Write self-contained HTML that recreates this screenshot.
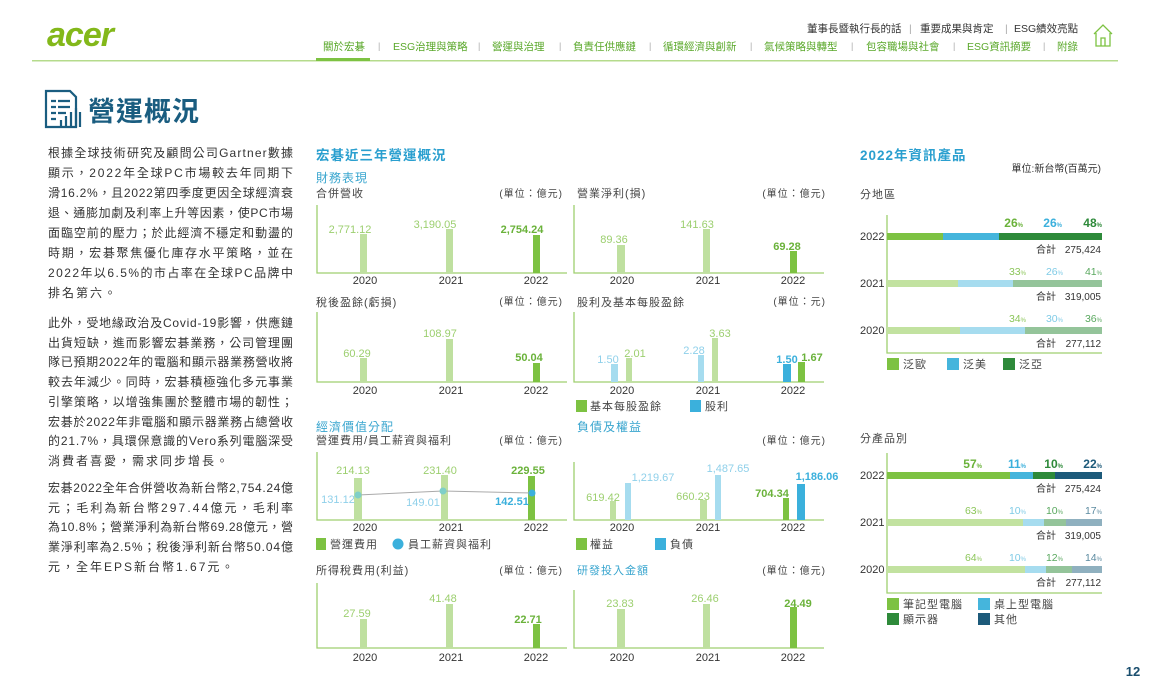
<!DOCTYPE html>
<html><head><meta charset="utf-8"><style>
html,body{margin:0;padding:0;background:#fff;}
svg{display:block;font-family:"Liberation Sans","Noto Sans CJK TC",sans-serif;}
</style></head><body>
<svg width="1150" height="690" viewBox="0 0 1150 690" xmlns="http://www.w3.org/2000/svg">
<!-- header -->
<text x="47" y="46" font-size="34" font-style="italic" font-weight="bold" fill="#83b81a" letter-spacing="-1">acer</text>
<g font-size="10.5" fill="#333">
<text x="807" y="32">董事長暨執行長的話</text><text x="909" y="32" fill="#aaa">|</text>
<text x="920" y="32">重要成果與肯定</text><text x="1005" y="32" fill="#aaa">|</text>
<text x="1014" y="32">ESG績效亮點</text>
</g>
<g font-size="10.5" fill="#5aa82a">
<text x="323" y="50">關於宏碁</text>
<text x="393" y="50">ESG治理與策略</text>
<text x="492" y="50">營運與治理</text>
<text x="573" y="50">負責任供應鏈</text>
<text x="663" y="50">循環經濟與創新</text>
<text x="764" y="50">氣候策略與轉型</text>
<text x="866" y="50">包容職場與社會</text>
<text x="967" y="50">ESG資訊摘要</text>
<text x="1057" y="50">附錄</text>
</g>
<g font-size="9" fill="#aaa">
<text x="378" y="49">|</text><text x="478" y="49">|</text><text x="559" y="49">|</text><text x="649" y="49">|</text><text x="750" y="49">|</text><text x="851" y="49">|</text><text x="953" y="49">|</text><text x="1043" y="49">|</text>
</g>
<g fill="none" stroke="#7dc242" stroke-width="1.3">
<path d="M1094 34 L1103 25 L1112 34 M1096 33 L1096 46 L1110 46 L1110 33 M1101 46 L1101 38 L1105 38 L1105 46"/>
</g>
<rect x="32" y="60" width="1086" height="1.5" fill="#b5db8c"/>
<rect x="316" y="58" width="54" height="3" fill="#7dc242"/>

<!-- title -->
<g fill="none" stroke="#1a5d80" stroke-width="2.2">
<path d="M46 91 L70 91 L76 97 L76 127 L46 127 Z"/>
<path d="M51 101 h5 M58 101 h12 M51 107 h5 M58 107 h12 M51 113 h5 M58 113 h8 M51 119 h5"/>
<path d="M61 127 V120 M66 127 V116 M71 127 V112 M76 127 V108 M80 127 V112"/>
</g>
<text x="88" y="121" font-size="27" font-weight="bold" fill="#1a5d80" letter-spacing="1">營運概況</text>

<!-- left text -->
<g font-size="12" fill="#333">
<text x="48" y="157" textLength="245" lengthAdjust="spacing">根據全球技術研究及顧問公司Gartner數據</text>
<text x="48" y="177" textLength="245" lengthAdjust="spacing">顯示，2022年全球PC市場較去年同期下</text>
<text x="48" y="197" textLength="245" lengthAdjust="spacing">滑16.2%，且2022第四季度更因全球經濟衰</text>
<text x="48" y="217" textLength="245" lengthAdjust="spacing">退、通膨加劇及利率上升等因素，使PC市場</text>
<text x="48" y="237" textLength="245" lengthAdjust="spacing">面臨空前的壓力；於此經濟不穩定和動盪的</text>
<text x="48" y="257" textLength="245" lengthAdjust="spacing">時期，宏碁聚焦優化庫存水平策略，並在</text>
<text x="48" y="277" textLength="245" lengthAdjust="spacing">2022年以6.5%的市占率在全球PC品牌中</text>
<text x="48" y="297" letter-spacing="2">排名第六。</text>
<text x="48" y="327" textLength="245" lengthAdjust="spacing">此外，受地緣政治及Covid-19影響，供應鏈</text>
<text x="48" y="347" textLength="245" lengthAdjust="spacing">出貨短缺，進而影響宏碁業務，公司管理團</text>
<text x="48" y="366" textLength="245" lengthAdjust="spacing">隊已預期2022年的電腦和顯示器業務營收將</text>
<text x="48" y="386" textLength="245" lengthAdjust="spacing">較去年減少。同時，宏碁積極強化多元事業</text>
<text x="48" y="406" textLength="245" lengthAdjust="spacing">引擎策略，以增強集團於整體市場的韌性；</text>
<text x="48" y="426" textLength="245" lengthAdjust="spacing">宏碁於2022年非電腦和顯示器業務占總營收</text>
<text x="48" y="445" textLength="245" lengthAdjust="spacing">的21.7%，具環保意識的Vero系列電腦深受</text>
<text x="48" y="465" letter-spacing="2">消費者喜愛，需求同步增長。</text>
<text x="48" y="492" textLength="245" lengthAdjust="spacing">宏碁2022全年合併營收為新台幣2,754.24億</text>
<text x="48" y="512" textLength="245" lengthAdjust="spacing">元；毛利為新台幣297.44億元，毛利率</text>
<text x="48" y="531" textLength="245" lengthAdjust="spacing">為10.8%；營業淨利為新台幣69.28億元，營</text>
<text x="48" y="551" textLength="245" lengthAdjust="spacing">業淨利率為2.5%；稅後淨利新台幣50.04億</text>
<text x="48" y="571" letter-spacing="2">元，全年EPS新台幣1.67元。</text>
</g>

<!-- middle headings -->
<text x="316" y="160" font-size="13.5" font-weight="bold" fill="#2a9fcf" letter-spacing="1">宏碁近三年營運概況</text>
<text x="316" y="182" font-size="12" fill="#3aa6cf" letter-spacing="1">財務表現</text>
<g font-size="11" fill="#444" letter-spacing="1">
<text x="316" y="197">合併營收</text><text x="563" y="197" text-anchor="end" font-size="10">(單位：億元)</text>
<text x="577" y="197">營業淨利(損)</text><text x="826" y="197" text-anchor="end" font-size="10">(單位：億元)</text>
<text x="316" y="306">稅後盈餘(虧損)</text><text x="563" y="305" text-anchor="end" font-size="10">(單位：億元)</text>
<text x="577" y="306">股利及基本每股盈餘</text><text x="826" y="305" text-anchor="end" font-size="10">(單位：元)</text>
<text x="316" y="444">營運費用/員工薪資與福利</text><text x="563" y="444" text-anchor="end" font-size="10">(單位：億元)</text>
<text x="826" y="444" text-anchor="end" font-size="10">(單位：億元)</text>
<text x="316" y="574">所得稅費用(利益)</text><text x="563" y="574" text-anchor="end" font-size="10">(單位：億元)</text>
<text x="826" y="574" text-anchor="end" font-size="10">(單位：億元)</text>
</g>
<g font-size="12" fill="#3aa6cf" letter-spacing="1">
<text x="316" y="431">經濟價值分配</text>
<text x="577" y="431">負債及權益</text>
<text x="577" y="574" font-size="11">研發投入金額</text>
</g>

<!-- axes -->
<g stroke="#9fcf6f" stroke-width="1.3" fill="none">
<path d="M317 205 V273 H567"/><path d="M574 205 V273 H824"/>
<path d="M317 312 V382 H567"/><path d="M574 312 V382 H824"/>
<path d="M317 452 V520 H567"/><path d="M574 462 V520 H824"/>
<path d="M317 583 V648 H567"/><path d="M574 590 V648 H824"/>
</g>

<!-- bars -->
<g fill="#bfe0a0">
<rect x="360" y="234" width="7" height="39"/><rect x="446" y="229" width="7" height="44"/>
<rect x="617" y="245" width="8" height="28"/><rect x="703" y="229" width="7" height="44"/>
<rect x="360" y="358" width="7" height="24"/><rect x="446" y="339" width="7" height="43"/>
<rect x="626" y="358" width="6" height="24"/><rect x="712" y="338" width="6" height="44"/>
<rect x="354" y="478" width="8" height="42"/><rect x="441" y="475" width="7" height="45"/>
<rect x="610" y="501" width="6" height="19"/><rect x="700" y="500" width="7" height="20"/>
<rect x="360" y="619" width="7" height="29"/><rect x="446" y="604" width="7" height="44"/>
<rect x="617" y="609" width="8" height="39"/><rect x="703" y="604" width="7" height="44"/>
</g>
<g fill="#7dc242">
<rect x="533" y="235" width="7" height="38"/><rect x="790" y="251" width="7" height="22"/>
<rect x="533" y="363" width="7" height="19"/><rect x="798" y="362" width="7" height="20"/>
<rect x="528" y="476" width="7" height="44"/><rect x="783" y="498" width="6" height="22"/>
<rect x="533" y="624" width="7" height="24"/><rect x="790" y="607" width="7" height="41"/>
</g>
<g fill="#a6dcef">
<rect x="611" y="364" width="7" height="18"/><rect x="698" y="355" width="6" height="27"/>
<rect x="625" y="483" width="6" height="37"/><rect x="715" y="475" width="6" height="45"/>
</g>
<g fill="#3bb0dc">
<rect x="783" y="364" width="8" height="18"/><rect x="797" y="484" width="8" height="36"/>
</g>
<!-- line -->
<polyline points="358,495 443,491 532,493" fill="none" stroke="#aaa" stroke-width="1"/>
<circle cx="358" cy="495" r="3.5" fill="#7fcfc8"/><circle cx="443" cy="491" r="3.5" fill="#7fcfc8"/><circle cx="532" cy="493" r="3.5" fill="#3bb0dc"/>

<!-- value labels -->
<g font-size="11" fill="#9ccf6f" text-anchor="middle">
<text x="350" y="233">2,771.12</text><text x="435" y="228">3,190.05</text>
<text x="614" y="243">89.36</text><text x="697" y="228">141.63</text>
<text x="357" y="357">60.29</text><text x="440" y="337">108.97</text>
<text x="635" y="357">2.01</text><text x="720" y="337">3.63</text>
<text x="353" y="474">214.13</text><text x="440" y="474">231.40</text>
<text x="603" y="501">619.42</text><text x="693" y="500">660.23</text>
<text x="357" y="617">27.59</text><text x="443" y="602">41.48</text>
<text x="620" y="607">23.83</text><text x="705" y="602">26.46</text>
</g>
<g font-size="11" fill="#8fd0ea" text-anchor="middle">
<text x="608" y="363">1.50</text><text x="694" y="354">2.28</text>
<text x="338" y="503">131.12</text><text x="423" y="506">149.01</text>
<text x="653" y="481">1,219.67</text><text x="728" y="472">1,487.65</text>
</g>
<g font-size="11" font-weight="bold" fill="#6ab23a" text-anchor="middle">
<text x="522" y="233">2,754.24</text><text x="787" y="250">69.28</text>
<text x="529" y="361">50.04</text><text x="812" y="361">1.67</text>
<text x="528" y="474">229.55</text><text x="772" y="497">704.34</text>
<text x="528" y="623">22.71</text><text x="798" y="607">24.49</text>
</g>
<g font-size="11" font-weight="bold" fill="#3bb0dc" text-anchor="middle">
<text x="787" y="363">1.50</text><text x="512" y="505">142.51</text><text x="817" y="480">1,186.06</text>
</g>

<!-- years -->
<g font-size="11" fill="#333" text-anchor="middle">
<text x="365" y="284">2020</text><text x="451" y="284">2021</text><text x="536" y="284">2022</text>
<text x="622" y="284">2020</text><text x="708" y="284">2021</text><text x="793" y="284">2022</text>
<text x="365" y="394">2020</text><text x="451" y="394">2021</text><text x="536" y="394">2022</text>
<text x="622" y="394">2020</text><text x="708" y="394">2021</text><text x="793" y="394">2022</text>
<text x="365" y="531">2020</text><text x="451" y="531">2021</text><text x="536" y="531">2022</text>
<text x="622" y="531">2020</text><text x="708" y="531">2021</text><text x="793" y="531">2022</text>
<text x="365" y="661">2020</text><text x="451" y="661">2021</text><text x="536" y="661">2022</text>
<text x="622" y="661">2020</text><text x="708" y="661">2021</text><text x="793" y="661">2022</text>
</g>

<!-- legends middle -->
<g font-size="11" fill="#444" letter-spacing="1">
<rect x="576" y="400" width="11" height="12" fill="#7dc242"/><text x="590" y="410">基本每股盈餘</text>
<rect x="690" y="400" width="11" height="12" fill="#3bb0dc"/><text x="705" y="410">股利</text>
<rect x="316" y="538" width="10" height="12" fill="#7dc242"/><text x="330" y="548">營運費用</text>
<circle cx="398" cy="544" r="5.5" fill="#3bb0dc"/><text x="408" y="548">員工薪資與福利</text>
<rect x="576" y="538" width="11" height="12" fill="#7dc242"/><text x="590" y="548">權益</text>
<rect x="655" y="538" width="11" height="12" fill="#3bb0dc"/><text x="670" y="548">負債</text>
</g>

<!-- right section -->
<text x="860" y="160" font-size="13.5" font-weight="bold" fill="#2a9fcf" letter-spacing="1">2022年資訊產品</text>
<text x="1101" y="172" font-size="10" fill="#333" text-anchor="end">單位:新台幣(百萬元)</text>
<text x="860" y="198" font-size="11" fill="#444" letter-spacing="1">分地區</text>
<text x="860" y="442" font-size="11" fill="#444" letter-spacing="1">分產品別</text>
<g stroke="#9fcf6f" stroke-width="1.3" fill="none">
<path d="M887 215 V353 H1102"/><path d="M887 453 V593 H1102"/>
</g>
<!-- region bars -->
<rect x="887" y="233" width="56" height="7" fill="#7dc242"/><rect x="943" y="233" width="56" height="7" fill="#45b5dc"/><rect x="999" y="233" width="103" height="7" fill="#2e8a3a"/>
<rect x="887" y="280" width="71" height="7" fill="#c2e2a0"/><rect x="958" y="280" width="55" height="7" fill="#a6dcef"/><rect x="1013" y="280" width="89" height="7" fill="#94c49a"/>
<rect x="887" y="327" width="73" height="7" fill="#c2e2a0"/><rect x="960" y="327" width="65" height="7" fill="#a6dcef"/><rect x="1025" y="327" width="77" height="7" fill="#94c49a"/>
<!-- product bars -->
<rect x="887" y="472" width="123" height="7" fill="#7dc242"/><rect x="1010" y="472" width="23" height="7" fill="#45b5dc"/><rect x="1033" y="472" width="22" height="7" fill="#2e8a3a"/><rect x="1055" y="472" width="47" height="7" fill="#1d5a7a"/>
<rect x="887" y="519" width="136" height="7" fill="#c2e2a0"/><rect x="1023" y="519" width="21" height="7" fill="#a6dcef"/><rect x="1044" y="519" width="22" height="7" fill="#94c49a"/><rect x="1066" y="519" width="36" height="7" fill="#8fb0bf"/>
<rect x="887" y="566" width="138" height="7" fill="#c2e2a0"/><rect x="1025" y="566" width="21" height="7" fill="#a6dcef"/><rect x="1046" y="566" width="26" height="7" fill="#94c49a"/><rect x="1072" y="566" width="30" height="7" fill="#8fb0bf"/>

<g font-size="11" fill="#333">
<text x="860" y="240">2022</text><text x="860" y="287">2021</text><text x="860" y="334">2020</text>
<text x="860" y="479">2022</text><text x="860" y="526">2021</text><text x="860" y="573">2020</text>
</g>
<g font-size="10" fill="#333">
<text x="1036" y="253">合計</text><text x="1101" y="253" text-anchor="end">275,424</text>
<text x="1036" y="300">合計</text><text x="1101" y="300" text-anchor="end">319,005</text>
<text x="1036" y="347">合計</text><text x="1101" y="347" text-anchor="end">277,112</text>
<text x="1036" y="492">合計</text><text x="1101" y="492" text-anchor="end">275,424</text>
<text x="1036" y="539">合計</text><text x="1101" y="539" text-anchor="end">319,005</text>
<text x="1036" y="586">合計</text><text x="1101" y="586" text-anchor="end">277,112</text>
</g>
<!-- percent labels -->
<g text-anchor="end" font-size="12" font-weight="bold">
<text x="1023" y="227" fill="#6ab23a">26<tspan font-size="6">%</tspan></text>
<text x="1062" y="227" fill="#3bb0dc">26<tspan font-size="6">%</tspan></text>
<text x="1102" y="227" fill="#2e8a3a">48<tspan font-size="6">%</tspan></text>
<text x="982" y="468" fill="#6ab23a">57<tspan font-size="6">%</tspan></text>
<text x="1026" y="468" fill="#3bb0dc">11<tspan font-size="6">%</tspan></text>
<text x="1063" y="468" fill="#2e8a3a">10<tspan font-size="6">%</tspan></text>
<text x="1102" y="468" fill="#1d5a7a">22<tspan font-size="6">%</tspan></text>
</g>
<g text-anchor="end" font-size="10.5">
<text x="1026" y="275" fill="#8cc65a">33<tspan font-size="6">%</tspan></text>
<text x="1063" y="275" fill="#7fcbe6">26<tspan font-size="6">%</tspan></text>
<text x="1102" y="275" fill="#5aa85f">41<tspan font-size="6">%</tspan></text>
<text x="1026" y="322" fill="#8cc65a">34<tspan font-size="6">%</tspan></text>
<text x="1063" y="322" fill="#7fcbe6">30<tspan font-size="6">%</tspan></text>
<text x="1102" y="322" fill="#5aa85f">36<tspan font-size="6">%</tspan></text>
<text x="982" y="514" fill="#8cc65a">63<tspan font-size="6">%</tspan></text>
<text x="1026" y="514" fill="#7fcbe6">10<tspan font-size="6">%</tspan></text>
<text x="1063" y="514" fill="#5aa85f">10<tspan font-size="6">%</tspan></text>
<text x="1102" y="514" fill="#5b8aa0">17<tspan font-size="6">%</tspan></text>
<text x="982" y="561" fill="#8cc65a">64<tspan font-size="6">%</tspan></text>
<text x="1026" y="561" fill="#7fcbe6">10<tspan font-size="6">%</tspan></text>
<text x="1063" y="561" fill="#5aa85f">12<tspan font-size="6">%</tspan></text>
<text x="1102" y="561" fill="#5b8aa0">14<tspan font-size="6">%</tspan></text>
</g>
<!-- right legends -->
<g font-size="11" fill="#444" letter-spacing="1">
<rect x="887" y="358" width="12" height="12" fill="#7dc242"/><text x="903" y="368">泛歐</text>
<rect x="947" y="358" width="12" height="12" fill="#45b5dc"/><text x="963" y="368">泛美</text>
<rect x="1003" y="358" width="12" height="12" fill="#2e8a3a"/><text x="1019" y="368">泛亞</text>
<rect x="887" y="598" width="12" height="12" fill="#7dc242"/><text x="903" y="608">筆記型電腦</text>
<rect x="978" y="598" width="12" height="12" fill="#45b5dc"/><text x="994" y="608">桌上型電腦</text>
<rect x="887" y="613" width="12" height="12" fill="#2e8a3a"/><text x="903" y="623">顯示器</text>
<rect x="978" y="613" width="12" height="12" fill="#1d5a7a"/><text x="994" y="623">其他</text>
</g>
<text x="1133" y="676" font-size="13" font-weight="bold" fill="#1a4e6e" text-anchor="middle">12</text>
</svg>
</body></html>
